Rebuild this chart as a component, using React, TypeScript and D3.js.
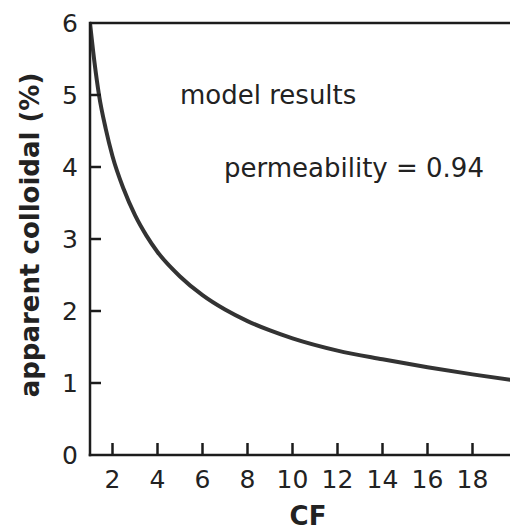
import React from "react";
import * as d3 from "d3";

const cf = [1, 1.2, 1.4, 1.7, 2, 2.5, 3, 3.5, 4, 5, 6, 7, 8, 9, 10, 12, 14, 16, 18, 20];
const colloidal = [6.0, 5.45, 5.0, 4.53, 4.15, 3.69, 3.33, 3.05, 2.82, 2.48, 2.22, 2.02, 1.86, 1.73, 1.62, 1.45, 1.33, 1.22, 1.12, 1.03];
const xTicks = [2, 4, 6, 8, 10, 12, 14, 16, 18];
const yTicks = [0, 1, 2, 3, 4, 5, 6];
const annotations = ["model results", "permeability = 0.94"];

const W = 510;
const H = 531;
const FONT = "'DejaVu Sans', sans-serif";

export default function App() {
  const x = d3.scaleLinear().domain([1, 20]).range([90, 517.5]);
  const y = d3.scaleLinear().domain([0, 6]).range([455, 23]);
  const pts = cf.map((c, i) => [c, colloidal[i]] as [number, number]);
  const line = d3
    .line<[number, number]>()
    .x((d) => x(d[0]))
    .y((d) => y(d[1]))
    .curve(d3.curveMonotoneX);
  const axisColor = "#1c1c1c";
  const textColor = "#222";
  return (
    <svg
      width={W}
      height={H}
      style={{ position: "absolute", left: 0, top: 0, background: "#fff" }}
    >
      <rect x={0} y={0} width={W} height={H} fill="#fff" />
      <defs>
        <clipPath id="plot">
          <rect x={x(1)} y={y(6) - 4} width={W - x(1)} height={y(0) - y(6) + 4} />
        </clipPath>
      </defs>
      {/* curve */}
      <path
        d={line(pts) || ""}
        fill="none"
        stroke="#333"
        strokeWidth={4}
        strokeLinejoin="round"
        clipPath="url(#plot)"
      />
      {/* frame */}
      <line x1={x(1)} x2={W + 5} y1={y(6)} y2={y(6)} stroke={axisColor} strokeWidth={2.5} />
      <line x1={x(1)} x2={x(1)} y1={y(6) - 1.25} y2={y(0) + 1.25} stroke={axisColor} strokeWidth={2.5} />
      <line x1={x(1) - 1.25} x2={W + 5} y1={y(0)} y2={y(0)} stroke={axisColor} strokeWidth={2.5} />
      {/* y ticks */}
      {yTicks.map((t) => (
        <g key={"y" + t}>
          {t > 0 && t < 6 && (
            <line x1={x(1)} x2={x(1) + 11} y1={y(t)} y2={y(t)} stroke={axisColor} strokeWidth={2.5} />
          )}
          <text
            x={78}
            y={y(t) + 9}
            textAnchor="end"
            fontFamily={FONT}
            fontSize={25}
            fill={textColor}
          >
            {t}
          </text>
        </g>
      ))}
      {/* x ticks */}
      {xTicks.map((t) => (
        <g key={"x" + t}>
          <line x1={x(t)} x2={x(t)} y1={y(0)} y2={y(0) - 12} stroke={axisColor} strokeWidth={2.5} />
          <text
            x={x(t)}
            y={487.5}
            textAnchor="middle"
            fontFamily={FONT}
            fontSize={25}
            fill={textColor}
          >
            {t}
          </text>
        </g>
      ))}
      {/* axis titles */}
      <text
        x={308}
        y={525}
        textAnchor="middle"
        fontFamily={FONT}
        fontWeight="bold"
        fontSize={26}
        fill={textColor}
      >
        CF
      </text>
      <text
        transform={`translate(39,${235}) rotate(-90)`}
        textAnchor="middle"
        fontFamily={FONT}
        fontWeight="bold"
        fontSize={26}
        fill={textColor}
      >
        apparent colloidal (%)
      </text>
      {/* annotations */}
      <text x={180} y={104} fontFamily={FONT} fontSize={26} fill={textColor}>
        {annotations[0]}
      </text>
      <text x={224} y={177} fontFamily={FONT} fontSize={26} fill={textColor}>
        {annotations[1]}
      </text>
    </svg>
  );
}
